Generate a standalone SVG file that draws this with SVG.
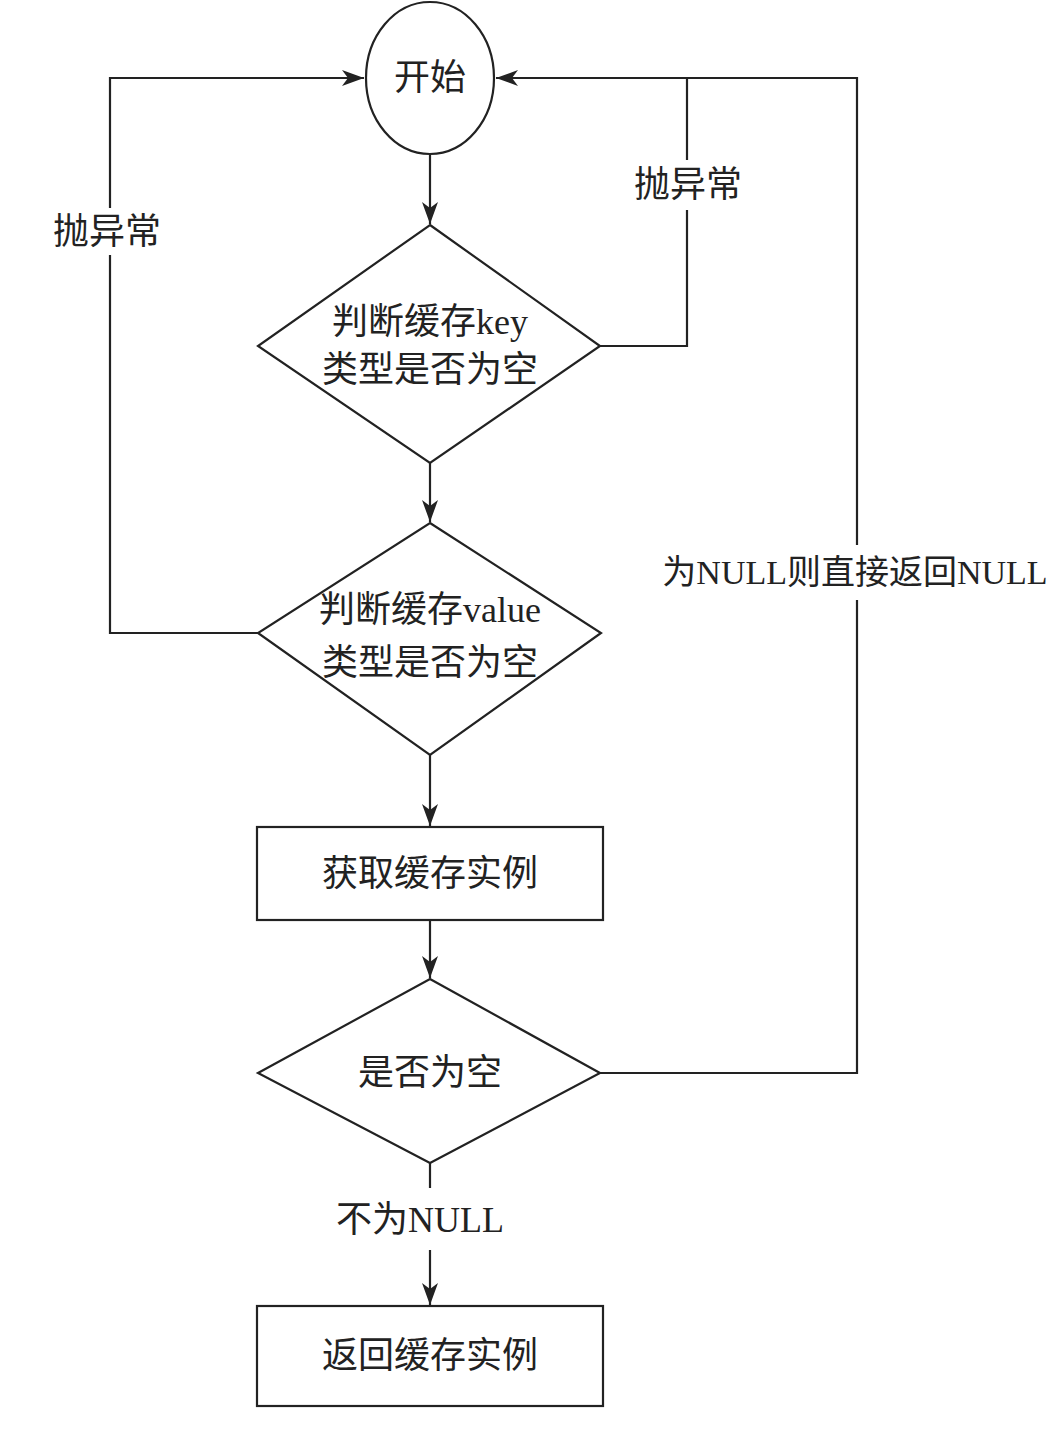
<svg xmlns="http://www.w3.org/2000/svg" width="1060" height="1434" viewBox="0 0 1060 1434">
<style>
.s{fill:#fff;stroke:#222;stroke-width:2.2}
.c{fill:none;stroke:#222;stroke-width:2.2}
.t{font-family:"Liberation Serif","Noto Sans CJK SC",serif;font-size:36px;fill:#222;text-anchor:middle;dominant-baseline:central}
.n{font-size:34px}
</style>
<defs>
<marker id="a" markerUnits="userSpaceOnUse" markerWidth="24" markerHeight="18" refX="22" refY="8" orient="auto">
<path d="M0,0 L22,8 L0,16 L6,8 z" fill="#222"/>
</marker>
</defs>
<rect width="1060" height="1434" fill="#fff"/>
<g id="connectors">
<line class="c" x1="430" y1="155" x2="430" y2="224" marker-end="url(#a)"/>
<line class="c" x1="430" y1="463" x2="430" y2="522" marker-end="url(#a)"/>
<line class="c" x1="430" y1="755" x2="430" y2="826" marker-end="url(#a)"/>
<line class="c" x1="430" y1="920" x2="430" y2="978" marker-end="url(#a)"/>
<line class="c" x1="430" y1="1163" x2="430" y2="1188"/>
<line class="c" x1="430" y1="1250" x2="430" y2="1305" marker-end="url(#a)"/>
<polyline class="c" points="258,633 110,633 110,255"/>
<polyline class="c" points="110,208 110,78 364,78" marker-end="url(#a)"/>
<polyline class="c" points="600,346 687,346 687,210"/>
<line class="c" x1="687" y1="160" x2="687" y2="78"/>
<polyline class="c" points="600,1073 857,1073 857,600"/>
<polyline class="c" points="857,545 857,78 496,78" marker-end="url(#a)"/>
<text class="t" x="107" y="232">抛异常</text>
<text class="t" x="688" y="185">抛异常</text>
<text class="t n" x="855" y="572">为NULL则直接返回NULL</text>
<text class="t" x="420" y="1220">不为NULL</text>
</g>
<g id="start">
<ellipse class="s" cx="430" cy="78" rx="64" ry="76"/>
<text class="t" x="430" y="78">开始</text>
</g>
<g id="checkKey">
<polygon class="s" points="430,225 600,346 430,463 258,346"/>
<text class="t" x="430" y="322">判断缓存key</text>
<text class="t" x="430" y="370">类型是否为空</text>
</g>
<g id="checkValue">
<polygon class="s" points="430,523 601,633 430,755 258,633"/>
<text class="t" x="430" y="610">判断缓存value</text>
<text class="t" x="430" y="663">类型是否为空</text>
</g>
<g id="getInstance">
<rect class="s" x="257" y="827" width="346" height="93"/>
<text class="t" x="430" y="874">获取缓存实例</text>
</g>
<g id="isNull">
<polygon class="s" points="430,979 600,1073 430,1163 258,1073"/>
<text class="t" x="430" y="1073">是否为空</text>
</g>
<g id="returnInstance">
<rect class="s" x="257" y="1306" width="346" height="100"/>
<text class="t" x="430" y="1356">返回缓存实例</text>
</g>
</svg>
